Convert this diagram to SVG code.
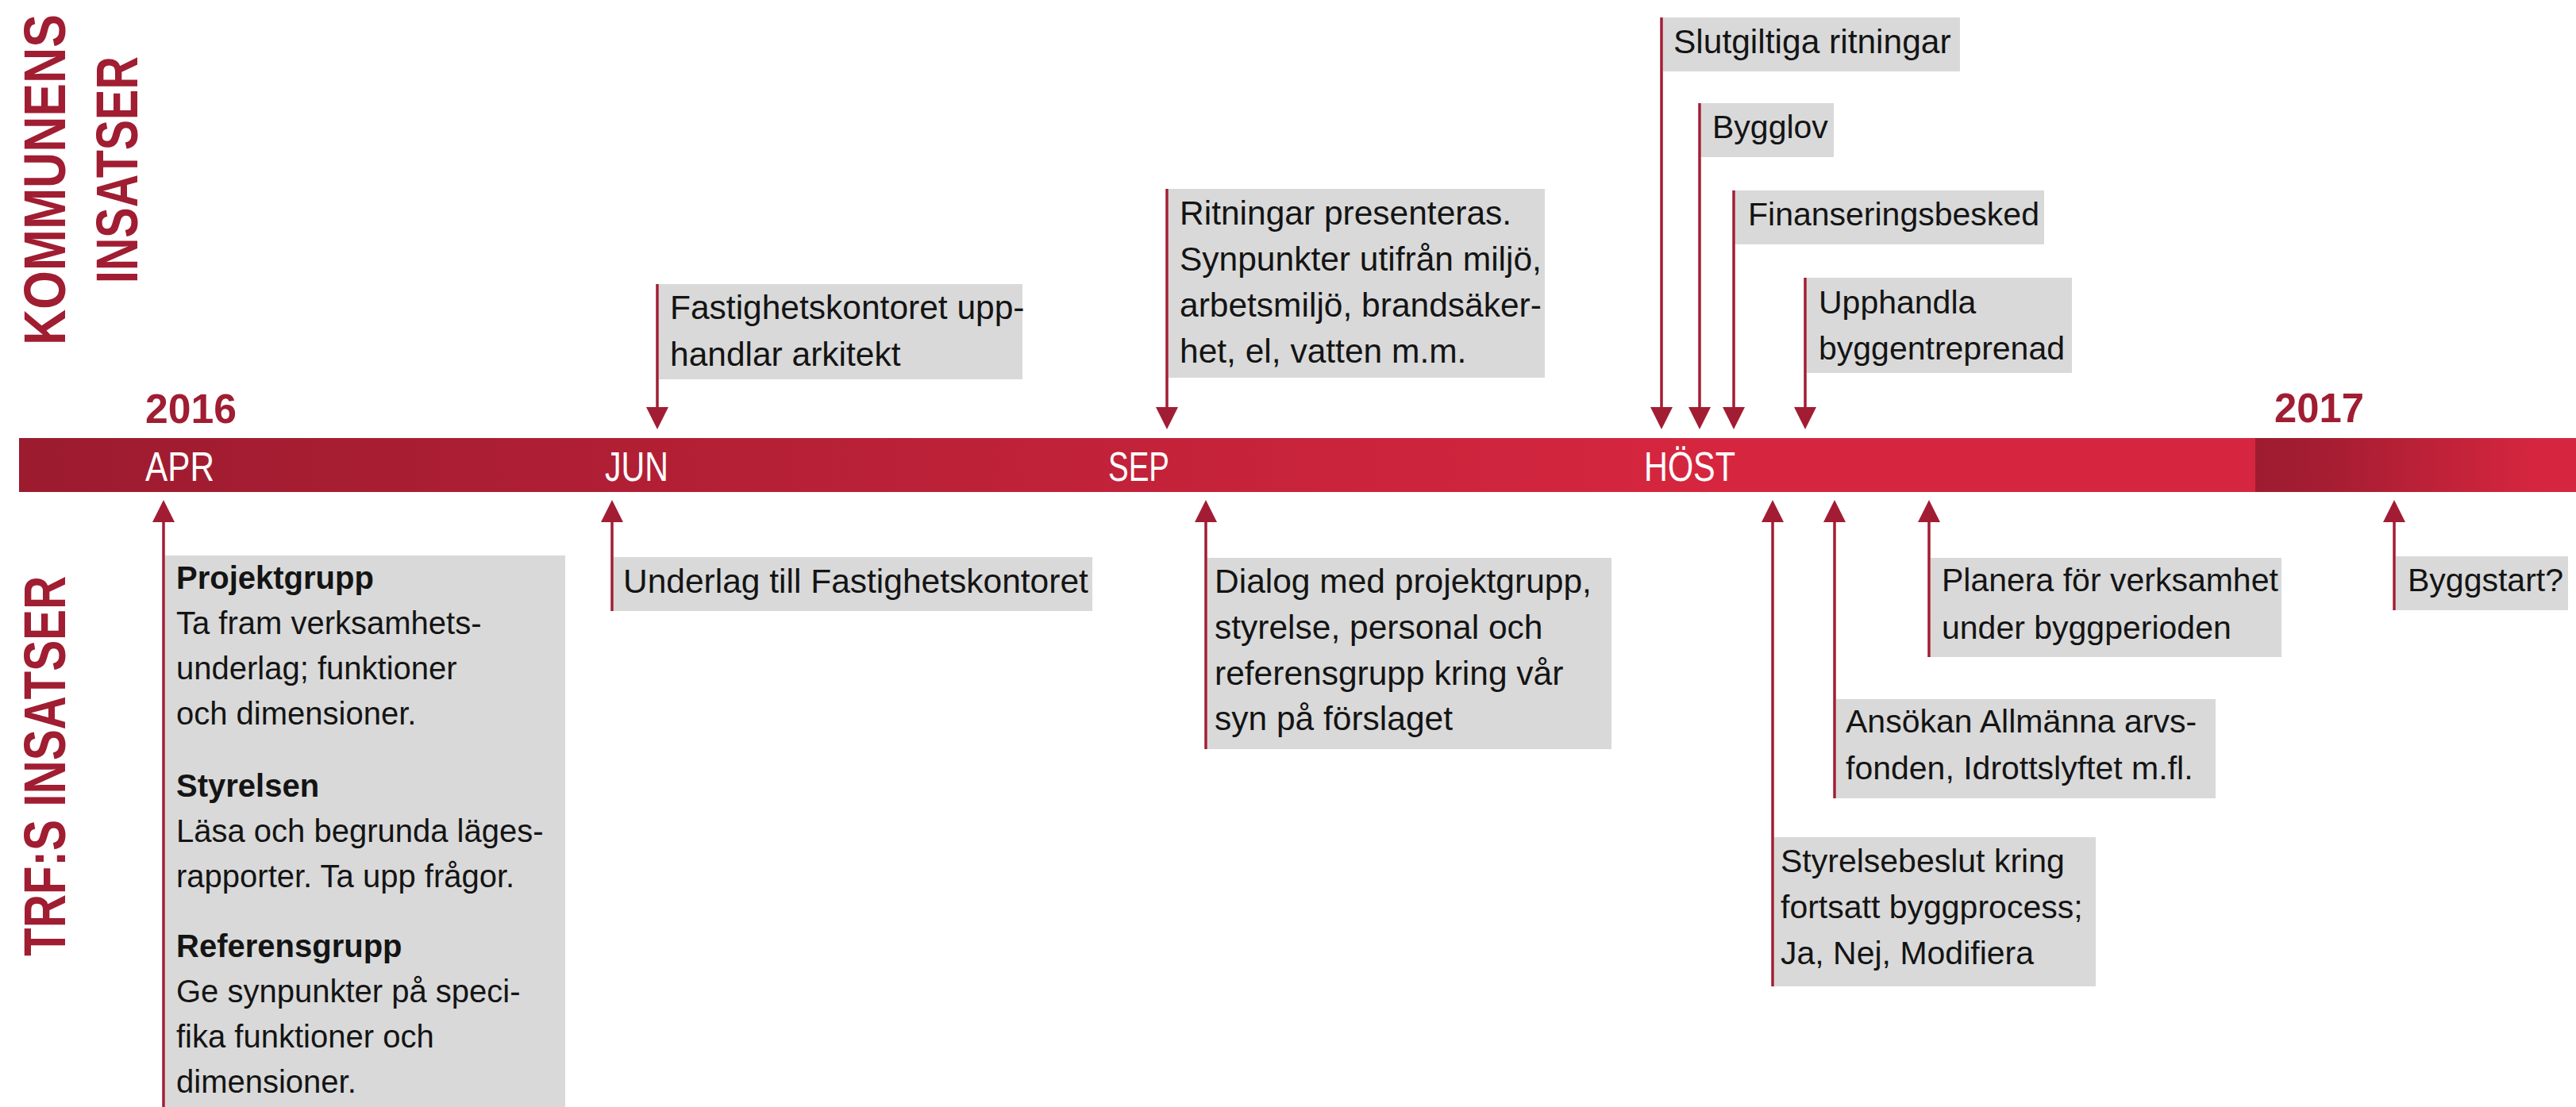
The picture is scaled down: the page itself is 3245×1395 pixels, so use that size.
<svg xmlns="http://www.w3.org/2000/svg" width="3245" height="1395" viewBox="0 0 3245 1395">
<style>
.bg{fill:#ffffff}
.box{fill:#d9d9d9}
.t{font-family:"Liberation Sans",Arial,sans-serif;font-size:41px;fill:#141414}
.tc{font-family:"Liberation Sans",Arial,sans-serif;font-size:42.5px;fill:#141414}
.ta{font-family:"Liberation Sans",Arial,sans-serif;font-size:40px;fill:#141414}
.b{font-weight:bold}
.title{font-family:"Liberation Sans",Arial,sans-serif;font-weight:bold;font-size:75px;fill:#a01d32}
.year{font-family:"Liberation Sans",Arial,sans-serif;font-weight:bold;font-size:52px;fill:#a01d32}
.month{font-family:"Liberation Sans",Arial,sans-serif;font-size:52px;fill:#ffffff}
.con{stroke:#a21d33;stroke-width:3.5;fill:none}
</style>
<defs>
<linearGradient id="g1" gradientUnits="userSpaceOnUse" x1="24" y1="0" x2="2150" y2="0">
<stop offset="0" stop-color="#9c1b2f"/>
<stop offset="1" stop-color="#d6263f"/>
</linearGradient>
<linearGradient id="g2" gradientUnits="userSpaceOnUse" x1="2841" y1="0" x2="3200" y2="0">
<stop offset="0" stop-color="#9e1c30"/>
<stop offset="0.25" stop-color="#a51d32"/>
<stop offset="1" stop-color="#d6263f"/>
</linearGradient>
<marker id="ah" viewBox="0 0 28 28" refX="0" refY="14" markerWidth="28" markerHeight="28" markerUnits="userSpaceOnUse" orient="auto">
<path d="M0,0 L28,14 L0,28 z" fill="#a21d33"/>
</marker>
</defs>
<rect class="bg" x="0" y="0" width="3245" height="1395"/>

<g id="titles">
<text class="title" transform="translate(82,435) rotate(-90) scale(0.834,1)">KOMMUNENS</text>
<text class="title" transform="translate(173,357) rotate(-90) scale(0.765,1)">INSATSER</text>
<text class="title" transform="translate(82,1205) rotate(-90) scale(0.779,1)">TRF:S INSATSER</text>
</g>

<g id="timeline">
<rect x="24" y="552" width="2817" height="68" fill="url(#g1)"/>
<rect x="2841" y="552" width="404" height="68" fill="url(#g2)"/>
<text class="year" x="183" y="533" textLength="115" lengthAdjust="spacingAndGlyphs">2016</text>
<text class="year" x="2865" y="532" textLength="113" lengthAdjust="spacingAndGlyphs">2017</text>
<text class="month" x="183" y="606" textLength="87" lengthAdjust="spacingAndGlyphs">APR</text>
<text class="month" x="762" y="606" textLength="80" lengthAdjust="spacingAndGlyphs">JUN</text>
<text class="month" x="1396" y="606" textLength="77" lengthAdjust="spacingAndGlyphs">SEP</text>
<text class="month" x="2071" y="606" textLength="115" lengthAdjust="spacingAndGlyphs">HÖST</text>
</g>

<g id="connectors">
<line class="con" x1="828" y1="358" x2="828" y2="513" marker-end="url(#ah)"/>
<line class="con" x1="1470" y1="238" x2="1470" y2="513" marker-end="url(#ah)"/>
<line class="con" x1="2093" y1="22" x2="2093" y2="513" marker-end="url(#ah)"/>
<line class="con" x1="2141" y1="130" x2="2141" y2="513" marker-end="url(#ah)"/>
<line class="con" x1="2184" y1="240" x2="2184" y2="513" marker-end="url(#ah)"/>
<line class="con" x1="2274" y1="350" x2="2274" y2="513" marker-end="url(#ah)"/>
<line class="con" x1="206" y1="1395" x2="206" y2="658" marker-end="url(#ah)"/>
<line class="con" x1="771" y1="770" x2="771" y2="658" marker-end="url(#ah)"/>
<line class="con" x1="1519" y1="944" x2="1519" y2="658" marker-end="url(#ah)"/>
<line class="con" x1="2233" y1="1243" x2="2233" y2="658" marker-end="url(#ah)"/>
<line class="con" x1="2311" y1="1006" x2="2311" y2="658" marker-end="url(#ah)"/>
<line class="con" x1="2430" y1="828" x2="2430" y2="658" marker-end="url(#ah)"/>
<line class="con" x1="3016" y1="769" x2="3016" y2="658" marker-end="url(#ah)"/>
</g>

<g id="n-fastighet">
<rect class="box" x="830" y="358" width="458" height="120"/>
<text class="tc"><tspan x="844" y="402">Fastighetskontoret upp-</tspan><tspan x="844" y="461">handlar arkitekt</tspan></text>
</g>

<g id="n-ritningar">
<rect class="box" x="1472" y="238" width="474" height="238"/>
<text class="tc"><tspan x="1486" y="283">Ritningar presenteras.</tspan><tspan x="1486" y="341">Synpunkter utifrån miljö,</tspan><tspan x="1486" y="399">arbetsmiljö, brandsäker-</tspan><tspan x="1486" y="457">het, el, vatten m.m.</tspan></text>
</g>

<g id="n-slutgiltiga">
<rect class="box" x="2095" y="22" width="374" height="68"/>
<text class="tc" x="2108" y="67">Slutgiltiga ritningar</text>
</g>

<g id="n-bygglov">
<rect class="box" x="2143" y="130" width="167" height="68"/>
<text class="t" x="2157" y="174">Bygglov</text>
</g>

<g id="n-finansiering">
<rect class="box" x="2186" y="240" width="389" height="68"/>
<text class="t" x="2202" y="284">Finanseringsbesked</text>
</g>

<g id="n-upphandla">
<rect class="box" x="2276" y="350" width="334" height="120"/>
<text class="t"><tspan x="2291" y="395">Upphandla</tspan><tspan x="2291" y="453">byggentreprenad</tspan></text>
</g>

<g id="n-apr">
<rect class="box" x="208" y="700" width="504" height="695"/>
<text class="ta"><tspan class="b" x="222" y="742">Projektgrupp</tspan><tspan x="222" y="799">Ta fram verksamhets-</tspan><tspan x="222" y="856">underlag; funktioner</tspan><tspan x="222" y="913">och dimensioner.</tspan><tspan class="b" x="222" y="1004">Styrelsen</tspan><tspan x="222" y="1061">Läsa och begrunda läges-</tspan><tspan x="222" y="1118">rapporter. Ta upp frågor.</tspan><tspan class="b" x="222" y="1206">Referensgrupp</tspan><tspan x="222" y="1263">Ge synpunkter på speci-</tspan><tspan x="222" y="1320">fika funktioner och</tspan><tspan x="222" y="1377">dimensioner.</tspan></text>
</g>

<g id="n-underlag">
<rect class="box" x="773" y="702" width="603" height="68"/>
<text class="tc" x="785" y="747">Underlag till Fastighetskontoret</text>
</g>

<g id="n-dialog">
<rect class="box" x="1521" y="703" width="509" height="241"/>
<text class="tc"><tspan x="1530" y="747">Dialog med projektgrupp,</tspan><tspan x="1530" y="805">styrelse, personal och</tspan><tspan x="1530" y="863">referensgrupp kring vår</tspan><tspan x="1530" y="920">syn på förslaget</tspan></text>
</g>

<g id="n-styrelsebeslut">
<rect class="box" x="2235" y="1055" width="405" height="188"/>
<text class="t"><tspan x="2243" y="1099">Styrelsebeslut kring</tspan><tspan x="2243" y="1157">fortsatt byggprocess;</tspan><tspan x="2243" y="1215">Ja, Nej, Modifiera</tspan></text>
</g>

<g id="n-ansokan">
<rect class="box" x="2313" y="881" width="478" height="125"/>
<text class="t"><tspan x="2325" y="923">Ansökan Allmänna arvs-</tspan><tspan x="2325" y="982">fonden, Idrottslyftet m.fl.</tspan></text>
</g>

<g id="n-planera">
<rect class="box" x="2432" y="703" width="442" height="125"/>
<text class="t"><tspan x="2446" y="745">Planera för verksamhet</tspan><tspan x="2446" y="805">under byggperioden</tspan></text>
</g>

<g id="n-byggstart">
<rect class="box" x="3018" y="701" width="217" height="68"/>
<text class="t" x="3033" y="745">Byggstart?</text>
</g>
</svg>
